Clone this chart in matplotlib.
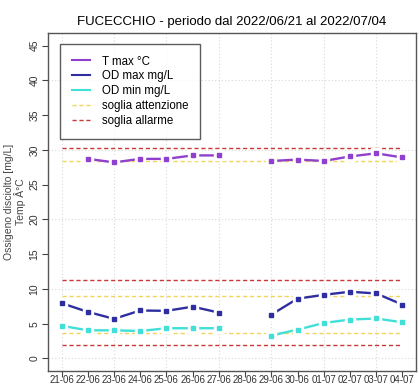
import numpy as np
import matplotlib.pyplot as plt

plt.rcParams['font.family'] = ['Liberation Sans', 'DejaVu Sans']

# dates on the x axis
days = ['21-06', '22-06', '23-06', '24-06', '25-06', '26-06', '27-06',
        '28-06', '29-06', '30-06', '01-07', '02-07', '03-07', '04-07']

# measured series (nan = no data)
nan = np.nan
t_max = [nan, 28.7, 28.2, 28.7, 28.7, 29.2, 29.2, nan, 28.4, 28.6, 28.4, 29.05, 29.5, 28.9]
od_max = [7.95, 6.7, 5.7, 6.9, 6.85, 7.45, 6.6, nan, 6.3, 8.6, 9.15, 9.6, 9.35, 7.75]
od_min = [4.7, 4.05, 4.05, 3.95, 4.35, 4.35, 4.35, nan, 3.3, 4.15, 5.1, 5.6, 5.75, 5.2]

# thresholds
attenzione = [28.4, 9.0, 3.7]
allarme = [30.2, 11.3, 2.0]

x = np.arange(len(days))

fig = plt.figure(figsize=(4.19, 3.85), dpi=100)
ax = fig.add_axes([48 / 419, 14 / 385, 368 / 419, 338 / 385])

# grid like R's grid()
for gx in x[::2]:
    ax.axvline(gx, color='#d8d8d8', lw=0.8, ls=(0, (1, 2)), zorder=0)
for gy in range(0, 50, 10):
    ax.axhline(gy, color='#d8d8d8', lw=0.8, ls=(0, (1, 2)), zorder=0)

# threshold lines
for v in attenzione:
    ax.plot([x[0], x[-1]], [v, v], color='#f2d45a', lw=1, ls=(0, (3, 2)), zorder=1)
for v in allarme:
    ax.plot([x[0], x[-1]], [v, v], color='#c83838', lw=1, ls=(0, (3, 2)), zorder=1)

series = [(t_max, '#9040cc'), (od_max, '#2e2ea0'), (od_min, '#40e0d8')]
for vals, col in series:
    ax.plot(x, vals, color=col, lw=1.7, zorder=2)
    ax.plot(x, vals, ls='none', marker='s', ms=7, mfc='white', mec='white', zorder=3)
    ax.plot(x, vals, ls='none', marker='s', ms=3.3, mfc=col, mec=col, zorder=4)

ax.set_xlim(-0.52, 13.52)
ax.set_ylim(-1.8, 46.8)
ax.set_xticks(x)
ax.set_xticklabels(days, fontsize=7, color='#333333')
ax.set_yticks(range(0, 50, 5))
ax.set_yticklabels([str(v) for v in range(0, 50, 5)], fontsize=7.5, rotation=90,
                   va='center', color='#333333')
ax.tick_params(axis='x', length=4, pad=-1, color='#444444')
ax.tick_params(axis='y', length=4, pad=2, color='#444444')
for s in ax.spines.values():
    s.set_color('#555555')
    s.set_linewidth(1)

ax.set_title('FUCECCHIO - periodo dal 2022/06/21 al 2022/07/04', fontsize=9.5, pad=6)
ax.set_ylabel('Ossigeno disciolto [mg/L]\nTemp Â°C', fontsize=7.5, color='#444444',
              labelpad=3, linespacing=1.0)

# legend
handles = [
    plt.Line2D([], [], color='#9040cc', lw=1.5),
    plt.Line2D([], [], color='#2e2ea0', lw=1.5),
    plt.Line2D([], [], color='#40e0d8', lw=1.5),
    plt.Line2D([], [], color='#f2d45a', lw=1, ls=(0, (3, 2))),
    plt.Line2D([], [], color='#c83838', lw=1, ls=(0, (3, 2))),
]
labels = ['T max °C', 'OD max mg/L', 'OD min mg/L', 'soglia attenzione', 'soglia allarme']
leg = ax.legend(handles, labels, loc='upper left', bbox_to_anchor=(12 / 368, 1 - 11 / 338),
                fontsize=8.3, frameon=True, fancybox=False, edgecolor='#333333',
                handlelength=1.6, handletextpad=1.0, labelspacing=0.25,
                borderpad=1.0, borderaxespad=0)
leg.get_frame().set_linewidth(1)

fig.savefig('out.png', dpi=100)
